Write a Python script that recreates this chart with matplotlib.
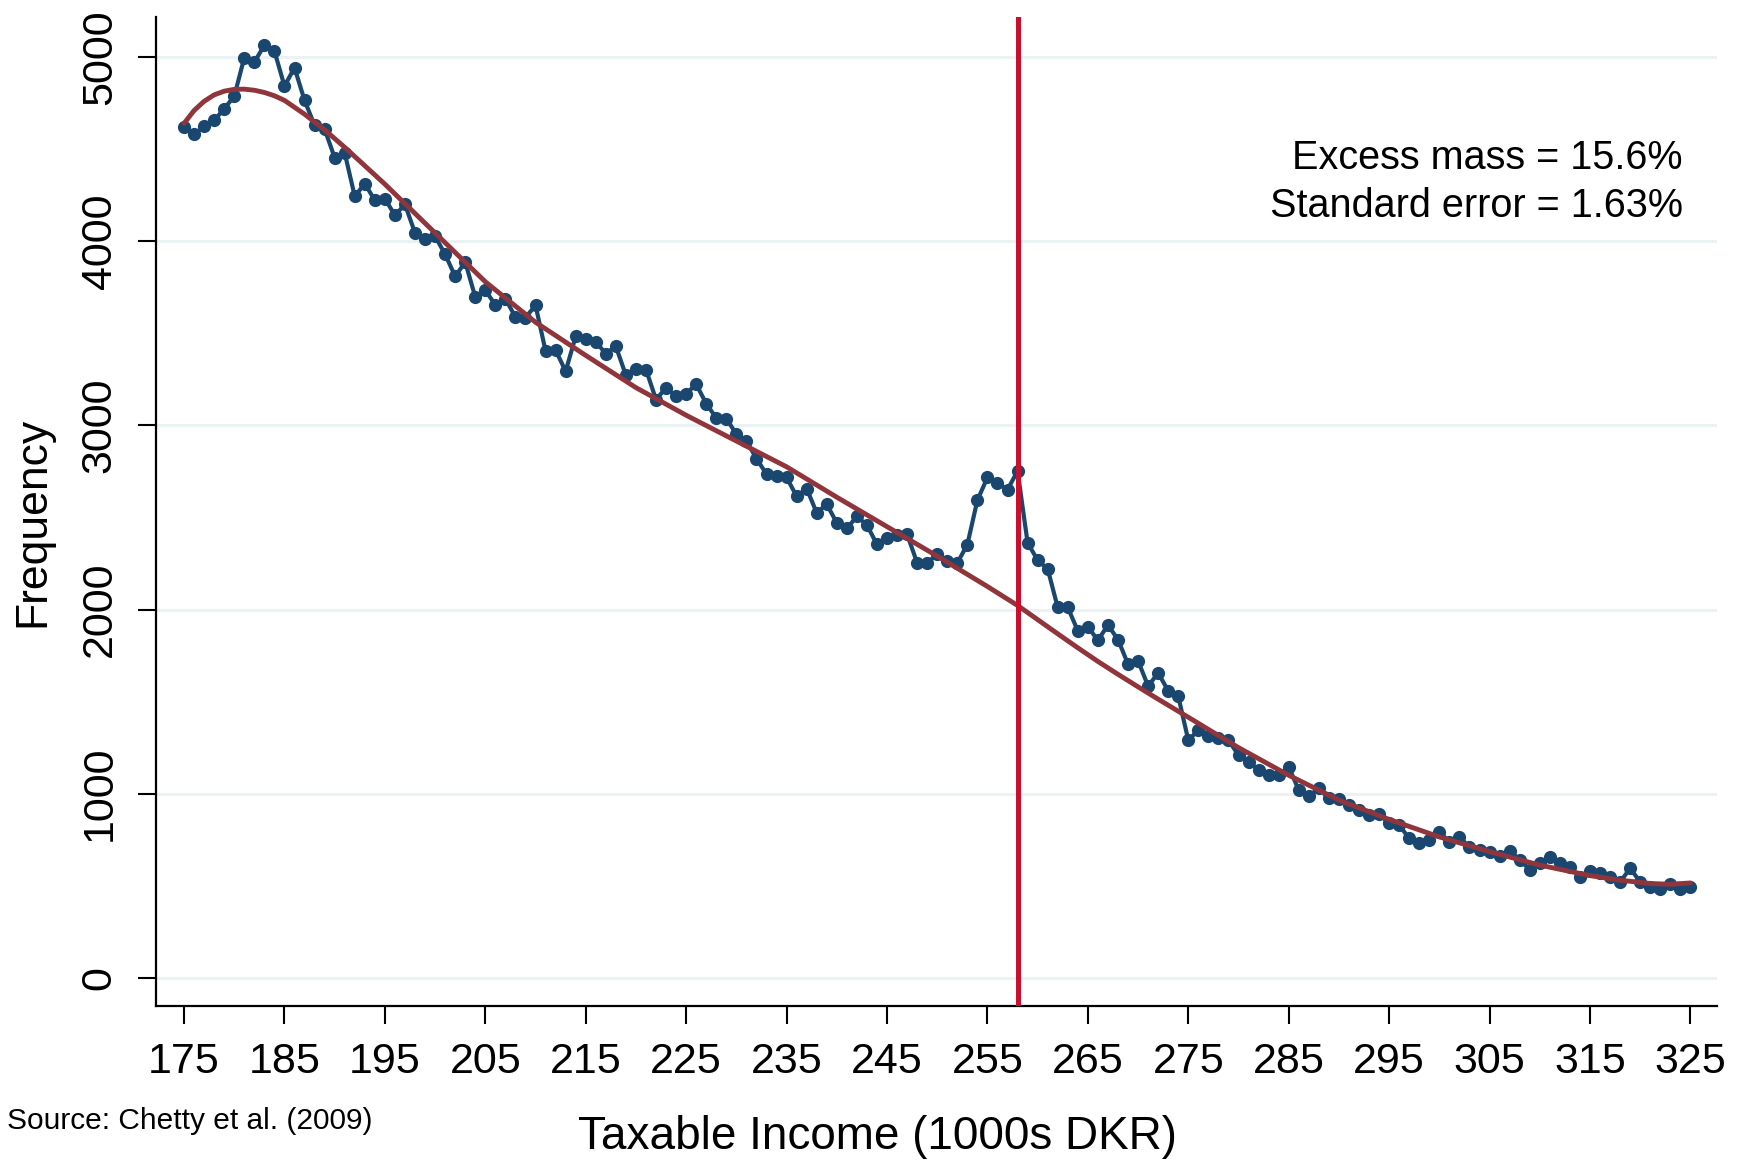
import numpy as np
import matplotlib
matplotlib.use("Agg")
import matplotlib.pyplot as plt

plt.rcParams['font.family'] = ['Liberation Sans', 'DejaVu Sans']

# taxable income bins (1000s DKR)
income = list(range(175, 326))

freq = [
    4620, 4580, 4624, 4656, 4720, 4787, 4997, 4973, 5064, 5033,  # 175-184
    4843, 4942, 4765, 4629, 4608, 4454, 4479, 4244, 4313, 4222,  # 185-194
    4231, 4141, 4200, 4045, 4014, 4027, 3929, 3809, 3887, 3697,  # 195-204
    3733, 3655, 3688, 3588, 3585, 3652, 3404, 3408, 3294, 3484,  # 205-214
    3467, 3453, 3390, 3429, 3272, 3305, 3303, 3140, 3205, 3158,  # 215-224
    3173, 3223, 3118, 3040, 3037, 2952, 2915, 2820, 2735, 2724,  # 225-234
    2717, 2615, 2657, 2525, 2572, 2470, 2440, 2506, 2458, 2354,  # 235-244
    2391, 2403, 2409, 2253, 2250, 2304, 2262, 2253, 2353, 2594,  # 245-254
    2717, 2687, 2651, 2752, 2362, 2268, 2220, 2011, 2011, 1884,  # 255-264
    1906, 1833, 1915, 1837, 1703, 1721, 1584, 1656, 1558, 1529,  # 265-274
    1290, 1345, 1315, 1304, 1290, 1209, 1173, 1128, 1100, 1100,  # 275-284
    1145, 1019, 987, 1028, 974, 970, 940, 912, 883, 889,         # 285-294
    838, 829, 757, 733, 748, 793, 738, 765, 708, 693,            # 295-304
    684, 664, 691, 641, 588, 624, 654, 624, 599, 548,            # 305-314
    581, 567, 545, 521, 594, 521, 491, 480, 509, 480,            # 315-324
    494,                                                         # 325
]

# counterfactual (fitted) distribution
fit_x = [175, 176, 177, 178, 179, 180, 181, 182, 183, 184, 185, 187, 189, 191,
         195, 200, 205, 210, 215, 220, 225, 230, 235, 240, 245, 250, 255,
         258, 260, 262, 264, 266, 268, 270, 272, 275, 280, 285, 290, 295,
         300, 305, 310, 315, 318, 321, 323, 325]
fit_y = [4640, 4710, 4760, 4795, 4815, 4825, 4826, 4820, 4808, 4790, 4765, 4690,
         4605, 4510, 4310, 4045, 3780, 3560, 3380, 3205, 3055, 2915, 2775,
         2610, 2450, 2290, 2125, 2022, 1945, 1868, 1792, 1718, 1648, 1580,
         1513, 1415, 1250, 1100, 965, 860, 765, 685, 612, 555, 530, 512, 508,
         515]

threshold = 258
note = ["Excess mass = 15.6%", "Standard error = 1.63%"]

fig = plt.figure(figsize=(17.48, 11.62), dpi=100)
ax = fig.add_axes([0.0892, 0.1346, 0.8928, 0.8508])

for g in range(0, 5001, 1000):
    ax.axhline(g, color='#eaf2f3', lw=2.2, zorder=0)

ax.plot(income, freq, color='#1a476f', lw=3.0, marker='o', ms=9.5,
        markeredgewidth=0, zorder=3)
ax.plot(fit_x, fit_y, color='#90353b', lw=3.5, zorder=4,
        solid_joinstyle='round', solid_capstyle='round')
ax.axvline(threshold, color='#c8102e', lw=3.6, zorder=5)

ax.set_xlim(172.2, 327.6)
ax.set_ylim(-151, 5218)
ax.set_xticks(range(175, 326, 10))
ax.set_yticks(range(0, 5001, 1000))

for s in ['top', 'right']:
    ax.spines[s].set_visible(False)
for s in ['left', 'bottom']:
    ax.spines[s].set_linewidth(1.6)
    ax.spines[s].set_color('black')

ax.tick_params(axis='both', direction='out', length=13, width=1.5,
               labelsize=31, pad=13)
for lab in ax.get_yticklabels():
    lab.set_rotation(90)
    lab.set_va('center')

fig.text(0.019, 0.551, "Frequency", rotation=90, ha='center', va='center',
         fontsize=32)
fig.text(0.502, 0.0215, "Taxable Income (1000s DKR)", ha='center',
         va='center', fontsize=33)
fig.text(0.004, 0.035, "Source: Chetty et al. (2009)", ha='left',
         va='center', fontsize=21.5)
fig.text(0.9628, 0.8638, note[0], ha='right', va='center', fontsize=28.5)
fig.text(0.9628, 0.8225, note[1], ha='right', va='center', fontsize=28.5)

fig.savefig("out.png", dpi=100)
